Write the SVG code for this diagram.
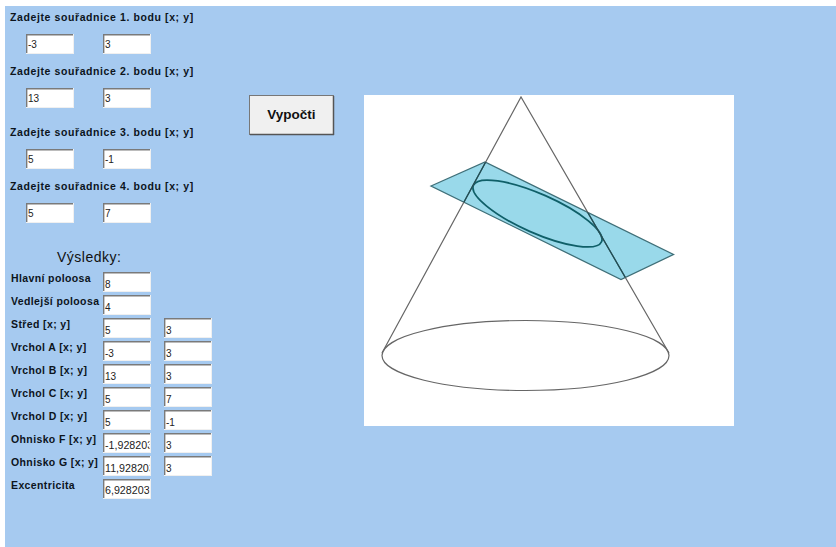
<svg xmlns="http://www.w3.org/2000/svg" width="836" height="547" viewBox="0 0 836 547">
<style>
.l{font:bold 10.5px "Liberation Sans",Arial,sans-serif;fill:#0c141c;letter-spacing:.6px}
.r{font:bold 10.5px "Liberation Sans",Arial,sans-serif;fill:#0c141c;letter-spacing:.38px}
.v{font:10px "Liberation Sans",Arial,sans-serif;fill:#222}
.w{font:10.700px "Liberation Sans",Arial,sans-serif;fill:#222}
.b{fill:#fff;stroke:#f0f0f0;stroke-width:1}
.s{fill:none;stroke:#7a7a7a;stroke-width:1.400}
.c{fill:none;stroke:#666;stroke-width:1.200}
</style>
<defs>
<g id="f"><rect class="b" x=".5" y=".5" width="47" height="19"/><path class="s" d="M.7 19V.7H47"/></g>
<clipPath id="c1"><rect x="103" y="0" width="46.500" height="547"/></clipPath>
<clipPath id="pl"><polygon points="431,186 485,162 673.500,254.500 621,279.500"/></clipPath>
</defs>
<rect width="836" height="547" fill="#fff"/>
<rect x="5" y="6" width="831" height="541" fill="#a6caf0"/>
<g id="form-input">
<text class="l" x="10" y="21">Zadejte souřadnice 1. bodu [x; y]</text>
<text class="l" x="10" y="75">Zadejte souřadnice 2. bodu [x; y]</text>
<text class="l" x="10" y="136">Zadejte souřadnice 3. bodu [x; y]</text>
<text class="l" x="10" y="190">Zadejte souřadnice 4. bodu [x; y]</text>
<use href="#f" x="26" y="34"/><text class="v" x="28" y="48">-3</text>
<use href="#f" x="103" y="34"/><text class="v" x="105" y="48">3</text>
<use href="#f" x="26" y="88"/><text class="v" x="28" y="102">13</text>
<use href="#f" x="103" y="88"/><text class="v" x="105" y="102">3</text>
<use href="#f" x="26" y="149"/><text class="v" x="28" y="163">5</text>
<use href="#f" x="103" y="149"/><text class="v" x="105" y="163">-1</text>
<use href="#f" x="26" y="203"/><text class="v" x="28" y="217">5</text>
<use href="#f" x="103" y="203"/><text class="v" x="105" y="217">7</text>
</g>
<g id="button">
<rect x="249.500" y="95.500" width="84" height="39" fill="#f0f0f0" stroke="#777" stroke-width="1"/>
<path d="M250 134.500H334M333.500 96V135" stroke="#555" stroke-width="1.500" fill="none"/>
<text x="291.500" y="119" text-anchor="middle" style="font:bold 13.500px 'Liberation Sans',Arial,sans-serif;fill:#111">Vypočti</text>
</g>
<g id="form-results">
<text x="57" y="262" style="font:14px 'Liberation Sans',Arial,sans-serif;fill:#111;letter-spacing:.5px">Výsledky:</text>
<text class="r" x="11" y="282">Hlavní poloosa</text>
<text class="r" x="11" y="305">Vedlejší poloosa</text>
<text class="r" x="11" y="328">Střed [x; y]</text>
<text class="r" x="11" y="351">Vrchol A [x; y]</text>
<text class="r" x="11" y="374">Vrchol B [x; y]</text>
<text class="r" x="11" y="397">Vrchol C [x; y]</text>
<text class="r" x="11" y="420">Vrchol D [x; y]</text>
<text class="r" x="11" y="443">Ohnisko F [x; y]</text>
<text class="r" x="11" y="466">Ohnisko G [x; y]</text>
<text class="r" x="11" y="489">Excentricita</text>
<use href="#f" x="103" y="272"/><text class="v" x="105" y="288">8</text>
<use href="#f" x="103" y="295"/><text class="v" x="105" y="311">4</text>
<use href="#f" x="103" y="318"/><text class="v" x="105" y="334">5</text>
<use href="#f" x="164" y="318"/><text class="v" x="166" y="334">3</text>
<use href="#f" x="103" y="341"/><text class="v" x="105" y="357">-3</text>
<use href="#f" x="164" y="341"/><text class="v" x="166" y="357">3</text>
<use href="#f" x="103" y="364"/><text class="v" x="105" y="380">13</text>
<use href="#f" x="164" y="364"/><text class="v" x="166" y="380">3</text>
<use href="#f" x="103" y="387"/><text class="v" x="105" y="403">5</text>
<use href="#f" x="164" y="387"/><text class="v" x="166" y="403">7</text>
<use href="#f" x="103" y="410"/><text class="v" x="105" y="426">5</text>
<use href="#f" x="164" y="410"/><text class="v" x="166" y="426">-1</text>
<use href="#f" x="103" y="433"/><text class="w" x="105" y="449" clip-path="url(#c1)">-1,928203</text>
<use href="#f" x="164" y="433"/><text class="v" x="166" y="449">3</text>
<use href="#f" x="103" y="456"/><text class="w" x="105" y="472" clip-path="url(#c1)">11,928203</text>
<use href="#f" x="164" y="456"/><text class="v" x="166" y="472">3</text>
<use href="#f" x="103" y="479"/><text class="w" x="105" y="494" clip-path="url(#c1)">6,928203</text>
</g>
<g id="drawing">
<rect x="364" y="95" width="370" height="331" fill="#fff"/>
<ellipse cx="525.500" cy="355.500" rx="143.500" ry="35" fill="none" stroke="#666" stroke-width="1.200"/>
<polygon points="431,186 485,162 673.500,254.500 621,279.500" fill="#99d9ea" stroke="#3f6f78" stroke-width="1.300"/>
<ellipse cx="537.500" cy="213.500" rx="70" ry="19.500" transform="rotate(23.800 537.500 213.500)" fill="none" stroke="#0f5f68" stroke-width="1.800"/>
<path class="c" d="M382 353L521 97L669 353"/>
<path d="M382 353L521 97L669 353" fill="none" stroke="#1c4f57" stroke-width="1.300" clip-path="url(#pl)"/>
</g>
</svg>
